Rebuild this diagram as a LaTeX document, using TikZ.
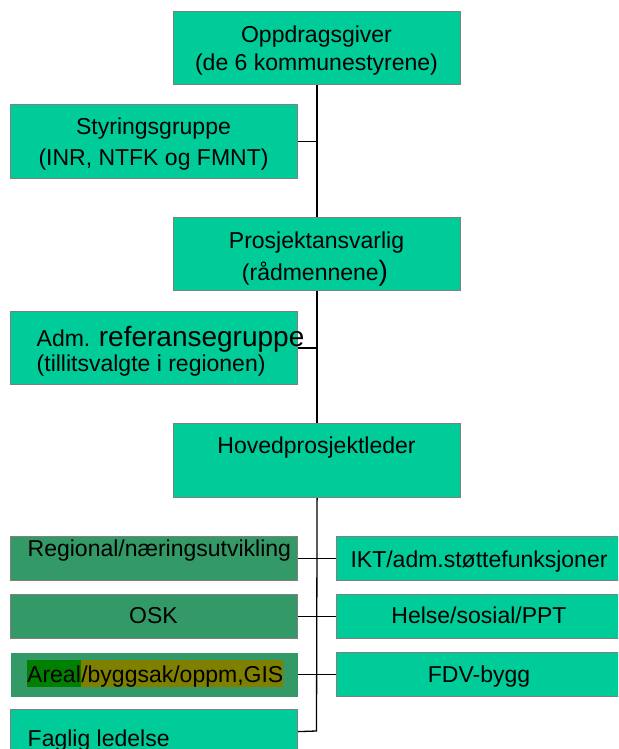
\documentclass[tikz,border=0pt]{standalone}
\usepackage{fontspec}
\setmainfont{Liberation Sans}
\definecolor{boxgreen}{RGB}{0,204,153}
\definecolor{darkgreen}{RGB}{51,153,102}
\definecolor{bordergray}{RGB}{128,128,128}
\definecolor{hlgreen}{RGB}{0,128,0}
\definecolor{hlolive}{RGB}{128,128,0}
\begin{document}
\begin{tikzpicture}[x=1pt,y=-1pt,
  box/.style={rectangle, draw=bordergray, line width=1.2pt, fill=boxgreen,
    anchor=north west, inner sep=0pt, minimum width=287pt},
  bigbox/.style={box, minimum height=73pt},
  smallbox/.style={box, minimum height=44pt},
  darkbox/.style={smallbox, fill=darkgreen},
  rightbox/.style={smallbox, minimum width=286pt},
  txt/.style={inner sep=0pt, anchor=base, font=\fontsize{23}{28}\selectfont},
  txtl/.style={txt, anchor=base west},
  hl/.style={txtl, text height=22pt, text depth=5pt},
  link/.style={line width=1.3pt, black}]
\clip (0,0) rectangle (618,749);
\fill[white] (0,0) rectangle (618,749);
% boxes
\node[bigbox, minimum height=73pt] (opp) at (173,11) {};
\node[bigbox, minimum height=74pt] (sty) at (10,104) {};
\node[bigbox, minimum height=73pt] (pro) at (173,217) {};
\node[bigbox, minimum height=73pt] (adm) at (10,311) {};
\node[bigbox, minimum height=74pt] (hov) at (173,423) {};
\node[darkbox] (reg) at (10,536) {};
\node[darkbox] (osk) at (10,594) {};
\node[darkbox, draw=none] (are) at (10,652) {};
\node[smallbox] (fag) at (10,709) {};
\node[rightbox] (ikt) at (336,536) {};
\node[rightbox] (hel) at (336,594) {};
\node[rightbox] (fdv) at (336,652) {};
% connectors
\coordinate (spineend) at (316.5,731);
\draw[link] (opp.south) -- (pro.north);
\draw[link] (pro.south) -- (hov.north);
\draw[link] (hov.south) -- (spineend) -- (fag.east);
\draw[link] (sty.east) -- (sty.east -| opp.south);
\draw[link] (adm.east) -- (adm.east -| opp.south);
\draw[link] (reg.east) -- (ikt.west);
\draw[link] (osk.east) -- (hel.west);
\draw[link] (are.east) -- (fdv.west);
% texts
\node[txt] (opp1) at (316.5,43) {Oppdragsgiver};
\node[txt] (opp2) at (316.5,71) {(de 6 kommunestyrene)};
\node[txt] (sty1) at (153.5,135) {Styringsgruppe};
\node[txt] (sty2) at (153.5,165) {(INR, NTFK og FMNT)};
\node[txt] (pro1) at (316.5,248) {Prosjektansvarlig};
\node[txt] (pro2) at (315,280) {(rådmennene{\fontsize{28}{32}\selectfont )}};
\node[txtl] (adm1) at (36.5,346) {Adm. {\fontsize{28}{32}\selectfont referansegruppe}};
\node[txtl] (adm2) at (36.5,371) {(tillitsvalgte i regionen)};
\node[txt] (hov1) at (316.5,453) {Hovedprosjektleder};
\node[txtl] (reg1) at (27.5,556.5) {Regional/næringsutvikling};
\node[txt] (osk1) at (153.5,623) {OSK};
\node[hl, fill=hlgreen] (are1) at (27,682) {Areal};
\node[hl, fill=hlolive] (are2) at (are1.base east) {/byggsak/oppm,GIS};
\node[txtl] (fag1) at (27.5,746) {Faglig ledelse};
\node[txt] (ikt1) at (479,567) {IKT/adm.støttefunksjoner};
\node[txt] (hel1) at (479,623) {Helse/sosial/PPT};
\node[txt] (fdv1) at (479,682) {FDV-bygg};
\end{tikzpicture}
\end{document}
